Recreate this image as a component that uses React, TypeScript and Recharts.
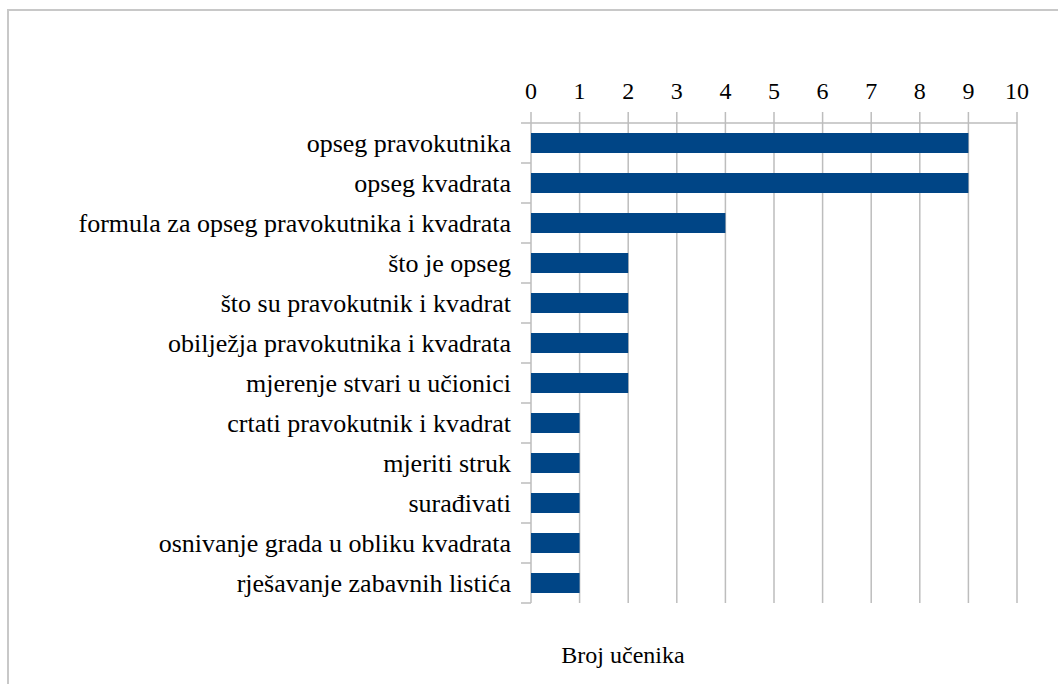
import React from "react";
import { BarChart, Bar, XAxis, YAxis, CartesianGrid } from "recharts";

const categories = [
  "opseg pravokutnika",
  "opseg kvadrata",
  "formula za opseg pravokutnika i kvadrata",
  "što je opseg",
  "što su pravokutnik i kvadrat",
  "obilježja pravokutnika i kvadrata",
  "mjerenje stvari u učionici",
  "crtati pravokutnik i kvadrat",
  "mjeriti struk",
  "surađivati",
  "osnivanje grada u obliku kvadrata",
  "rješavanje zabavnih listića",
];

const counts = [9, 9, 4, 2, 2, 2, 2, 1, 1, 1, 1, 1];

const xTicks = [0, 1, 2, 3, 4, 5, 6, 7, 8, 9, 10];

const axisTitle = "Broj učenika";

const data = categories.map((name, i) => ({ name, count: counts[i] }));

const FONT = "'Liberation Serif', 'DejaVu Serif', serif";
const GRID = "#bdbdbd";
const BAR = "#004586";

// category ticks sit on the band edges, not the centres
const CategoryTick = (props: any) => {
  const { x, y, payload, index, visibleTicksCount, height } = props;
  const half =
    payload && payload.offset ? payload.offset : height / visibleTicksCount / 2;
  const last = index === visibleTicksCount - 1;
  return (
    <g>
      <line x1={x - 10} x2={x} y1={y - half} y2={y - half} stroke={GRID} strokeWidth={1.5} />
      {last && (
        <line x1={x - 10} x2={x} y1={y + half} y2={y + half} stroke={GRID} strokeWidth={1.5} />
      )}
      <text
        x={x - 20}
        y={y}
        dy="0.36em"
        textAnchor="end"
        fill="#000"
        style={{ fontFamily: FONT, fontSize: 26 }}
      >
        {payload.value}
      </text>
    </g>
  );
};

export default function App() {
  return (
    <div
      style={{
        position: "absolute",
        left: 0,
        top: 0,
        width: 1058,
        height: 684,
        overflow: "hidden",
        background: "#fff",
        fontFamily: FONT,
      }}
    >
      <div
        style={{
          position: "absolute",
          left: 7,
          top: 9,
          width: 1200,
          height: 800,
          border: "2px solid #c8c8c8",
        }}
      />
      <div style={{ position: "absolute", left: 0, top: 0 }}>
        <BarChart
          width={1058}
          height={684}
          data={data}
          layout="vertical"
          margin={{ top: 0, right: 41, bottom: 81, left: 0 }}
          barCategoryGap="25%"
          style={{ fontFamily: FONT }}
        >
          <CartesianGrid vertical={true} horizontal={false} stroke={GRID} strokeWidth={1.5} />
          <XAxis
            type="number"
            orientation="top"
            domain={[0, 10]}
            ticks={xTicks}
            interval={0}
            height={123}
            tickSize={11}
            tickMargin={13}
            axisLine={{ stroke: GRID, strokeWidth: 1.5 }}
            tickLine={{ stroke: GRID, strokeWidth: 1.5 }}
            tick={{ fill: "#000", fontSize: 24, fontFamily: FONT }}
          />
          <XAxis
            xAxisId="frame"
            type="number"
            orientation="bottom"
            domain={[0, 10]}
            height={0}
            tick={false}
            tickLine={false}
            axisLine={{ stroke: GRID, strokeWidth: 1.5 }}
          />
          <YAxis
            type="category"
            dataKey="name"
            width={531}
            interval={0}
            tickSize={0}
            tickMargin={0}
            tickLine={false}
            axisLine={false}
            tick={<CategoryTick />}
          />
          <Bar dataKey="count" fill={BAR} isAnimationActive={false} />
        </BarChart>
      </div>
      <div
        style={{
          position: "absolute",
          left: 523,
          top: 643,
          width: 200,
          textAlign: "center",
          fontFamily: FONT,
          fontSize: 24,
          lineHeight: "24px",
          color: "#000",
        }}
      >
        {axisTitle}
      </div>
    </div>
  );
}
